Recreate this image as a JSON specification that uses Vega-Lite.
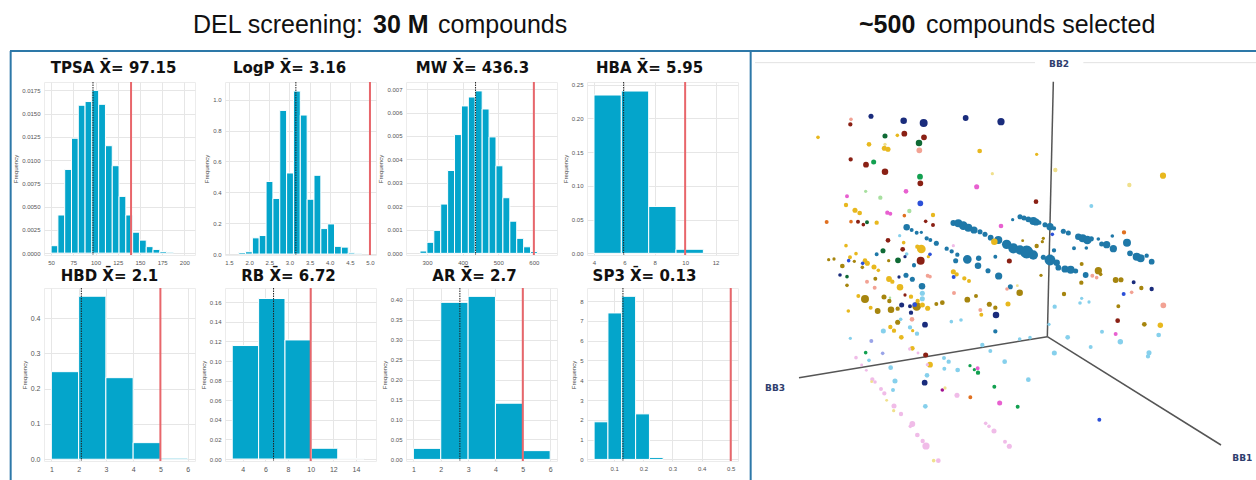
{"$schema":"https://vega.github.io/schema/vega-lite/v6.json","autosize":{"type":"pad"},"padding":{"left":9,"top":13,"right":0,"bottom":0},"background":"white","columns":5,"spacing":{"row":33,"column":30},"bounds":"flush","config":{"view":{"stroke":"#ececec"},"title":{"font":"DejaVu Sans","fontWeight":"bold","fontSize":15,"color":"#111111","anchor":"middle"},"axis":{"grid":true,"gridColor":"#e6e6e6","gridWidth":1,"domain":false,"ticks":false,"labelColor":"#555555","labelFont":"Liberation Sans","labelFontSize":6,"labelPadding":4,"titleFont":"Liberation Sans","titleFontSize":6,"titleFontWeight":"normal","titleColor":"#444444","titlePadding":3}},
"concat":[
{"title":{"text":"TPSA X̄= 97.15","dx":-6,"offset":5},"width":151,"height":173,"layer":[{"data":{"values":[{"a":50,"b":57.65,"f":0.0008},{"a":57.65,"b":65.3,"f":0.0041},{"a":65.3,"b":72.95,"f":0.009},{"a":72.95,"b":80.6,"f":0.01235},{"a":80.6,"b":88.25,"f":0.0159},{"a":88.25,"b":95.9,"f":0.0163},{"a":95.9,"b":103.55,"f":0.0175},{"a":103.55,"b":111.2,"f":0.016},{"a":111.2,"b":118.85,"f":0.01155},{"a":118.85,"b":126.5,"f":0.0094},{"a":126.5,"b":134.15,"f":0.0061},{"a":134.15,"b":141.8,"f":0.0041},{"a":141.8,"b":149.45,"f":0.00225},{"a":149.45,"b":157.1,"f":0.0014},{"a":157.1,"b":164.75,"f":0.0007},{"a":164.75,"b":172.4,"f":0.0004},{"a":172.4,"b":180.05,"f":0.00018},{"a":180.05,"b":187.7,"f":0.0001}]},"mark":{"type":"bar","fill":"#04a5cb","stroke":"white","strokeWidth":1},"encoding":{"x":{"field":"a","type":"quantitative","scale":{"domain":[42,212],"nice":false,"zero":false},"axis":{"title":null,"values":[50,75,100,125,150,175,200],"format":"d","labelOverlap":false}},"x2":{"field":"b"},"y":{"field":"f","type":"quantitative","scale":{"domain":[-0.0002,0.0184],"nice":false,"zero":false},"axis":{"title":"Frequency","values":[0,0.0025,0.005,0.0075,0.01,0.0125,0.015,0.0175],"format":".4f"}},"y2":{"datum":0}}},{"data":{"values":[{"v":140}]},"mark":{"type":"rule","stroke":"#e8666b","strokeWidth":2},"encoding":{"x":{"field":"v","type":"quantitative","axis":{"title":null,"values":[50,75,100,125,150,175,200],"format":"d","labelOverlap":false}}}},{"data":{"values":[{"v":97.15}]},"mark":{"type":"rule","stroke":"#222222","strokeWidth":1,"strokeDash":[1.5,1]},"encoding":{"x":{"field":"v","type":"quantitative","axis":{"title":null,"values":[50,75,100,125,150,175,200],"format":"d","labelOverlap":false}}}}]},
{"title":{"text":"LogP X̄= 3.16","dx":-11,"offset":5},"width":151,"height":173,"layer":[{"data":{"values":[{"a":1.74,"b":1.91,"f":0.01},{"a":1.91,"b":2.08,"f":0.015},{"a":2.08,"b":2.25,"f":0.105},{"a":2.25,"b":2.42,"f":0.12},{"a":2.42,"b":2.59,"f":0.47},{"a":2.59,"b":2.76,"f":0.36},{"a":2.76,"b":2.93,"f":0.93},{"a":2.93,"b":3.1,"f":0.525},{"a":3.1,"b":3.27,"f":1.055},{"a":3.27,"b":3.44,"f":0.9},{"a":3.44,"b":3.61,"f":0.355},{"a":3.61,"b":3.78,"f":0.51},{"a":3.78,"b":3.95,"f":0.165},{"a":3.95,"b":4.12,"f":0.195},{"a":4.12,"b":4.29,"f":0.05},{"a":4.29,"b":4.46,"f":0.045},{"a":4.46,"b":4.63,"f":0.008},{"a":4.63,"b":4.8,"f":0.005}]},"mark":{"type":"bar","fill":"#04a5cb","stroke":"white","strokeWidth":1},"encoding":{"x":{"field":"a","type":"quantitative","scale":{"domain":[1.4,5.15],"nice":false,"zero":false},"axis":{"title":null,"values":[1.5,2,2.5,3,3.5,4,4.5,5],"format":".1f","labelOverlap":false}},"x2":{"field":"b"},"y":{"field":"f","type":"quantitative","scale":{"domain":[-0.006,1.114],"nice":false,"zero":false},"axis":{"title":"Frequency","values":[0,0.2,0.4,0.6,0.8,1],"format":".1f"}},"y2":{"datum":0}}},{"data":{"values":[{"v":5}]},"mark":{"type":"rule","stroke":"#e8666b","strokeWidth":2},"encoding":{"x":{"field":"v","type":"quantitative","axis":{"title":null,"values":[1.5,2,2.5,3,3.5,4,4.5,5],"format":".1f","labelOverlap":false}}}},{"data":{"values":[{"v":3.16}]},"mark":{"type":"rule","stroke":"#222222","strokeWidth":1,"strokeDash":[1.5,1]},"encoding":{"x":{"field":"v","type":"quantitative","axis":{"title":null,"values":[1.5,2,2.5,3,3.5,4,4.5,5],"format":".1f","labelOverlap":false}}}}]},
{"title":{"text":"MW X̄= 436.3","dx":-9,"offset":5},"width":151,"height":173,"layer":[{"data":{"values":[{"a":280.3,"b":299.7,"f":0.0001},{"a":299.7,"b":319.1,"f":0.00047},{"a":319.1,"b":338.5,"f":0.00098},{"a":338.5,"b":357.9,"f":0.0021},{"a":357.9,"b":377.3,"f":0.00353},{"a":377.3,"b":396.7,"f":0.00506},{"a":396.7,"b":416.1,"f":0.00628},{"a":416.1,"b":435.5,"f":0.00666},{"a":435.5,"b":454.9,"f":0.00692},{"a":454.9,"b":474.3,"f":0.00615},{"a":474.3,"b":493.7,"f":0.00496},{"a":493.7,"b":513.1,"f":0.00373},{"a":513.1,"b":532.5,"f":0.00237},{"a":532.5,"b":551.9,"f":0.00137},{"a":551.9,"b":571.3,"f":0.00064},{"a":571.3,"b":590.7,"f":0.00028},{"a":590.7,"b":610.1,"f":0.00008}]},"mark":{"type":"bar","fill":"#04a5cb","stroke":"white","strokeWidth":1},"encoding":{"x":{"field":"a","type":"quantitative","scale":{"domain":[241,665],"nice":false,"zero":false},"axis":{"title":null,"values":[300,400,500,600],"format":"d","labelOverlap":false}},"x2":{"field":"b"},"y":{"field":"f","type":"quantitative","scale":{"domain":[-0.00007,0.0073],"nice":false,"zero":false},"axis":{"title":"Frequency","values":[0,0.001,0.002,0.003,0.004,0.005,0.006,0.007],"format":".3f"}},"y2":{"datum":0}}},{"data":{"values":[{"v":600}]},"mark":{"type":"rule","stroke":"#e8666b","strokeWidth":2},"encoding":{"x":{"field":"v","type":"quantitative","axis":{"title":null,"values":[300,400,500,600],"format":"d","labelOverlap":false}}}},{"data":{"values":[{"v":436.3}]},"mark":{"type":"rule","stroke":"#222222","strokeWidth":1,"strokeDash":[1.5,1]},"encoding":{"x":{"field":"v","type":"quantitative","axis":{"title":null,"values":[300,400,500,600],"format":"d","labelOverlap":false}}}}]},
{"title":{"text":"HBA X̄= 5.95","dx":-13,"offset":5},"width":151,"height":173,"layer":[{"data":{"values":[{"a":4,"b":5.8,"f":0.2347},{"a":5.8,"b":7.6,"f":0.2406},{"a":7.6,"b":9.4,"f":0.0695},{"a":9.4,"b":11.2,"f":0.006}]},"mark":{"type":"bar","fill":"#04a5cb","stroke":"white","strokeWidth":1},"encoding":{"x":{"field":"a","type":"quantitative","scale":{"domain":[3.54,13.48],"nice":false,"zero":false},"axis":{"title":null,"values":[4,6,8,10,12],"format":"d","labelOverlap":false}},"x2":{"field":"b"},"y":{"field":"f","type":"quantitative","scale":{"domain":[-0.0025,0.254],"nice":false,"zero":false},"axis":{"title":"Frequency","values":[0,0.05,0.1,0.15,0.2,0.25],"format":".2f"}},"y2":{"datum":0}}},{"data":{"values":[{"v":10}]},"mark":{"type":"rule","stroke":"#e8666b","strokeWidth":2},"encoding":{"x":{"field":"v","type":"quantitative","axis":{"title":null,"values":[4,6,8,10,12],"format":"d","labelOverlap":false}}}},{"data":{"values":[{"v":5.95}]},"mark":{"type":"rule","stroke":"#222222","strokeWidth":1,"strokeDash":[1.5,1]},"encoding":{"x":{"field":"v","type":"quantitative","axis":{"title":null,"values":[4,6,8,10,12],"format":"d","labelOverlap":false}}}}]},
{"width":488,"height":173,"view":{"stroke":null},"layer":[
{"data":{"values":[{"x":15,"x2":855,"y":38,"y2":38},{"x":1000,"x2":1518,"y":38,"y2":38}]},"mark":{"type":"rule","stroke":"#e2e2e2","strokeWidth":1,"clip":false},"encoding":{"x":{"field":"x","type":"quantitative","scale":{"domain":[54,1518],"nice":false,"zero":false},"axis":null},"y":{"field":"y","type":"quantitative","scale":{"domain":[615,96],"nice":false,"zero":false},"axis":null},"x2":{"field":"x2"},"y2":{"field":"y2"}}},
{"data":{"values":[{"x":910,"x2":892,"y":95,"y2":860},{"x":892,"x2":147,"y":860,"y2":983},{"x":892,"x2":1413,"y":860,"y2":1185}]},"mark":{"type":"rule","stroke":"#555555","strokeWidth":1.5,"clip":false},"encoding":{"x":{"field":"x","type":"quantitative","axis":null},"y":{"field":"y","type":"quantitative","axis":null},"x2":{"field":"x2"},"y2":{"field":"y2"}}},
{"data":{"values":[
{"g":"n","x":363,"y":199,"m":14},{"g":"n","x":461,"y":212,"m":18},{"g":"n","x":521,"y":219,"m":22},{"g":"n","x":647,"y":204,"m":16},{"g":"n","x":753,"y":215,"m":20},{"g":"u","x":511,"y":460,"m":16},{"g":"s","x":303,"y":208,"m":10},{"g":"s","x":508,"y":301,"m":16},{"g":"r","x":301,"y":223,"m":12},{"g":"r","x":463,"y":251,"m":16},{"g":"r","x":522,"y":262,"m":16},{"g":"r","x":302,"y":328,"m":12},{"g":"r","x":348,"y":344,"m":16},{"g":"r","x":405,"y":365,"m":18},{"g":"r","x":511,"y":400,"m":16},{"g":"r","x":858,"y":455,"m":13},
{"g":"y","x":204,"y":262,"m":10},{"g":"y","x":442,"y":256,"m":10},{"g":"y","x":357,"y":283,"m":13},{"g":"w","x":405,"y":283,"m":9},{"g":"y","x":403,"y":295,"m":14},{"g":"y","x":414,"y":298,"m":14},{"g":"y","x":689,"y":303,"m":13},{"g":"y","x":860,"y":313,"m":9},{"g":"w","x":916,"y":360,"m":12},{"g":"w","x":727,"y":371,"m":9},{"g":"y","x":1239,"y":377,"m":17},{"g":"w","x":1138,"y":405,"m":12},{"g":"y","x":288,"y":465,"m":12},{"g":"y","x":315,"y":481,"m":14},{"g":"y","x":329,"y":489,"m":13},{"g":"y","x":549,"y":495,"m":12},{"g":"y","x":380,"y":518,"m":12},
{"g":"k","x":405,"y":258,"m":14},{"g":"k","x":507,"y":279,"m":18},{"g":"g","x":371,"y":336,"m":14},{"g":"g","x":510,"y":380,"m":16},{"g":"e","x":347,"y":424,"m":9},{"g":"e","x":391,"y":443,"m":12},{"g":"e","x":478,"y":483,"m":12},{"g":"m","x":291,"y":439,"m":11},{"g":"m","x":468,"y":424,"m":13},{"g":"m","x":680,"y":410,"m":14},{"g":"m","x":412,"y":488,"m":12},{"g":"m","x":421,"y":491,"m":11},{"g":"m","x":753,"y":528,"m":13},{"g":"o","x":230,"y":516,"m":11},{"g":"o","x":303,"y":515,"m":10},{"g":"o","x":463,"y":497,"m":10},{"g":"o","x":1122,"y":547,"m":12},{"g":"r","x":324,"y":515,"m":11},{"g":"r","x":340,"y":524,"m":10},{"g":"r","x":527,"y":514,"m":10},{"g":"r","x":549,"y":525,"m":11},{"g":"r","x":414,"y":571,"m":13},{"g":"r","x":458,"y":598,"m":13},{"g":"k","x":351,"y":517,"m":11},{"g":"k","x":399,"y":602,"m":14},{"g":"k","x":444,"y":631,"m":16},{"g":"l","x":1024,"y":468,"m":11},
{"g":"b","x":810,"y":500,"m":14},{"g":"b","x":822,"y":504,"m":14},{"g":"b","x":835,"y":508,"m":16},{"g":"b","x":850,"y":513,"m":22},{"g":"b","x":858,"y":516,"m":20},{"g":"b","x":868,"y":518,"m":12},{"g":"b","x":885,"y":524,"m":14},{"g":"b","x":900,"y":530,"m":20},{"g":"b","x":912,"y":535,"m":12},{"g":"b","x":940,"y":544,"m":14},{"g":"b","x":955,"y":549,"m":14},{"g":"b","x":985,"y":560,"m":18},{"g":"b","x":998,"y":565,"m":22},{"g":"b","x":1012,"y":570,"m":24},{"g":"b","x":1024,"y":566,"m":14},{"g":"b","x":1045,"y":567,"m":10},{"g":"b","x":1055,"y":582,"m":14},{"g":"b","x":1070,"y":584,"m":20},{"g":"b","x":1090,"y":596,"m":20},{"g":"b","x":1140,"y":610,"m":16},{"g":"b","x":1160,"y":620,"m":22},{"g":"b","x":1172,"y":625,"m":22},{"g":"b","x":1190,"y":617,"m":12},{"g":"b","x":1205,"y":635,"m":16},{"g":"b","x":1087,"y":558,"m":10},{"g":"b","x":1131,"y":578,"m":22},{"g":"b","x":788,"y":509,"m":9},{"g":"b","x":972,"y":595,"m":11},{"g":"b","x":1009,"y":594,"m":10},{"g":"b","x":912,"y":601,"m":12},
{"g":"b","x":610,"y":519,"m":16},{"g":"b","x":625,"y":520,"m":22},{"g":"b","x":640,"y":527,"m":24},{"g":"b","x":655,"y":533,"m":22},{"g":"b","x":672,"y":540,"m":20},{"g":"b","x":690,"y":545,"m":14},{"g":"b","x":705,"y":553,"m":14},{"g":"b","x":722,"y":563,"m":16},{"g":"b","x":745,"y":570,"m":22},{"g":"b","x":770,"y":583,"m":26},{"g":"b","x":790,"y":595,"m":28},{"g":"b","x":810,"y":600,"m":26},{"g":"b","x":830,"y":606,"m":36},{"g":"b","x":850,"y":615,"m":26},{"g":"b","x":880,"y":622,"m":14},{"g":"b","x":900,"y":630,"m":30},{"g":"b","x":920,"y":638,"m":18},
{"g":"b","x":470,"y":532,"m":18},{"g":"b","x":485,"y":540,"m":11},{"g":"b","x":500,"y":548,"m":11},{"g":"b","x":514,"y":547,"m":9},{"g":"b","x":530,"y":565,"m":12},{"g":"b","x":541,"y":570,"m":11},{"g":"b","x":559,"y":580,"m":14},{"g":"b","x":590,"y":596,"m":12},{"g":"b","x":605,"y":604,"m":12},{"g":"b","x":622,"y":614,"m":12},{"g":"b","x":617,"y":632,"m":14},{"g":"b","x":652,"y":628,"m":24},{"g":"b","x":686,"y":625,"m":15},{"g":"b","x":736,"y":620,"m":11},{"g":"b","x":380,"y":613,"m":11},{"g":"b","x":492,"y":645,"m":11},
{"g":"y","x":733,"y":575,"m":18},{"g":"d","x":818,"y":572,"m":8},{"g":"d","x":880,"y":565,"m":9},{"g":"d","x":877,"y":575,"m":9},{"g":"d","x":860,"y":588,"m":12},{"g":"y","x":461,"y":578,"m":10},{"g":"y","x":288,"y":587,"m":10},{"g":"y","x":318,"y":611,"m":10},{"g":"y","x":300,"y":622,"m":11},{"g":"y","x":514,"y":597,"m":24},{"g":"y","x":502,"y":590,"m":12},{"g":"d","x":236,"y":629,"m":9},{"g":"d","x":252,"y":627,"m":9},{"g":"y","x":345,"y":632,"m":13},{"g":"y","x":352,"y":640,"m":14},{"g":"d","x":416,"y":632,"m":9},{"g":"d","x":313,"y":634,"m":9},{"g":"y","x":535,"y":620,"m":9},{"g":"d","x":995,"y":642,"m":11},{"g":"u","x":907,"y":553,"m":10},{"g":"u","x":540,"y":613,"m":10},{"g":"u","x":296,"y":632,"m":10},{"g":"u","x":338,"y":640,"m":10},{"g":"r","x":512,"y":632,"m":22},{"g":"r","x":778,"y":633,"m":14},{"g":"l","x":449,"y":557,"m":9},{"g":"l","x":470,"y":612,"m":10},{"g":"p","x":610,"y":587,"m":9},{"g":"n","x":465,"y":620,"m":9},
{"g":"d","x":277,"y":648,"m":13},{"g":"d","x":337,"y":652,"m":10},{"g":"y","x":372,"y":651,"m":14},{"g":"y","x":385,"y":661,"m":10},{"g":"y","x":417,"y":687,"m":16},{"g":"y","x":427,"y":695,"m":12},{"g":"y","x":450,"y":712,"m":18},{"g":"y","x":610,"y":665,"m":14},{"g":"y","x":620,"y":673,"m":12},{"g":"y","x":643,"y":685,"m":12},{"g":"y","x":657,"y":693,"m":11},{"g":"d","x":1045,"y":662,"m":20},{"g":"d","x":1052,"y":673,"m":10},{"g":"d","x":873,"y":676,"m":9},
{"g":"n","x":270,"y":675,"m":10},{"g":"n","x":447,"y":681,"m":9},{"g":"b","x":468,"y":676,"m":14},{"g":"b","x":487,"y":688,"m":14},{"g":"b","x":516,"y":709,"m":18},{"g":"b","x":746,"y":678,"m":20},{"g":"b","x":714,"y":662,"m":14},{"g":"b","x":684,"y":647,"m":18},{"g":"b","x":492,"y":647,"m":10},{"g":"b","x":781,"y":710,"m":14},{"g":"k","x":291,"y":680,"m":10},{"g":"s","x":351,"y":695,"m":11},{"g":"s","x":374,"y":713,"m":11},{"g":"s","x":533,"y":677,"m":11},{"g":"s","x":540,"y":680,"m":10},{"g":"s","x":612,"y":729,"m":11},{"g":"s","x":771,"y":717,"m":10},
{"g":"d","x":376,"y":686,"m":11},{"g":"d","x":291,"y":706,"m":10},{"g":"y","x":325,"y":738,"m":11},{"g":"d","x":345,"y":747,"m":22},{"g":"d","x":402,"y":741,"m":14},{"g":"d","x":418,"y":753,"m":12},{"g":"y","x":362,"y":773,"m":11},{"g":"d","x":383,"y":783,"m":16},{"g":"d","x":423,"y":779,"m":18},{"g":"d","x":443,"y":776,"m":12},{"g":"y","x":295,"y":783,"m":10},{"g":"d","x":500,"y":769,"m":24},{"g":"y","x":483,"y":740,"m":12},{"g":"y","x":503,"y":753,"m":12},{"g":"y","x":517,"y":765,"m":14},{"g":"y","x":533,"y":775,"m":14},{"g":"d","x":559,"y":762,"m":11},{"g":"d","x":577,"y":758,"m":13},{"g":"d","x":652,"y":749,"m":16},{"g":"d","x":678,"y":738,"m":11},{"g":"d","x":718,"y":763,"m":14},{"g":"d","x":736,"y":773,"m":12},{"g":"d","x":809,"y":728,"m":18},{"g":"y","x":774,"y":762,"m":14},{"g":"y","x":694,"y":794,"m":11},{"g":"d","x":443,"y":817,"m":14},
{"g":"r","x":465,"y":735,"m":9},{"g":"l","x":517,"y":730,"m":14},{"g":"l","x":517,"y":746,"m":14},{"g":"n","x":455,"y":765,"m":14},{"g":"n","x":480,"y":769,"m":11},{"g":"n","x":483,"y":788,"m":12},{"g":"n","x":525,"y":824,"m":16},{"g":"n","x":738,"y":795,"m":18},{"g":"b","x":736,"y":844,"m":12},{"g":"u","x":494,"y":764,"m":13},{"g":"u","x":611,"y":681,"m":11},{"g":"s","x":691,"y":780,"m":11},{"g":"s","x":486,"y":808,"m":13},
{"g":"l","x":604,"y":815,"m":10},{"g":"l","x":633,"y":810,"m":10},{"g":"l","x":452,"y":808,"m":10},{"g":"l","x":400,"y":843,"m":14},{"g":"l","x":480,"y":832,"m":12},{"g":"l","x":501,"y":851,"m":12},{"g":"l","x":301,"y":865,"m":9},{"g":"v","x":364,"y":873,"m":11},{"g":"v","x":398,"y":910,"m":10},{"g":"l","x":357,"y":931,"m":10},{"g":"l","x":422,"y":953,"m":13},{"g":"l","x":435,"y":993,"m":14},{"g":"l","x":429,"y":1020,"m":11},{"g":"l","x":531,"y":976,"m":13},{"g":"l","x":526,"y":1069,"m":13},{"g":"l","x":583,"y":956,"m":11},{"g":"l","x":596,"y":935,"m":12},{"g":"l","x":582,"y":924,"m":11},{"g":"l","x":623,"y":960,"m":13},{"g":"l","x":697,"y":885,"m":12},{"g":"l","x":721,"y":903,"m":11},{"g":"l","x":764,"y":935,"m":13},{"g":"l","x":809,"y":867,"m":10},{"g":"l","x":840,"y":863,"m":10},{"g":"l","x":835,"y":989,"m":13},{"g":"l","x":913,"y":909,"m":14},{"g":"l","x":914,"y":770,"m":12},{"g":"l","x":897,"y":823,"m":9},{"g":"l","x":953,"y":862,"m":13},{"g":"l","x":995,"y":745,"m":9},{"g":"l","x":990,"y":759,"m":10},{"g":"l","x":1017,"y":756,"m":9},{"g":"l","x":1056,"y":845,"m":11},{"g":"l","x":1022,"y":891,"m":11},{"g":"l","x":1111,"y":875,"m":15},{"g":"l","x":1226,"y":855,"m":13},{"g":"l","x":1197,"y":908,"m":14},{"g":"l","x":1194,"y":919,"m":12},
{"g":"y","x":421,"y":831,"m":12},{"g":"y","x":432,"y":842,"m":12},{"g":"y","x":454,"y":862,"m":13},{"g":"y","x":488,"y":842,"m":9},{"g":"y","x":487,"y":895,"m":13},{"g":"y","x":540,"y":944,"m":16},{"g":"d","x":1105,"y":769,"m":11},{"g":"d","x":1183,"y":823,"m":13},{"g":"y","x":1231,"y":826,"m":15},{"g":"d","x":942,"y":732,"m":12},{"g":"d","x":994,"y":698,"m":12},{"g":"d","x":1097,"y":690,"m":16},{"g":"d","x":1113,"y":689,"m":14},{"g":"d","x":1174,"y":714,"m":12},{"g":"n","x":1151,"y":697,"m":11},{"g":"n","x":1205,"y":717,"m":12},{"g":"u","x":1121,"y":732,"m":11},{"g":"s","x":1027,"y":677,"m":11},{"g":"s","x":1040,"y":683,"m":10},{"g":"s","x":1145,"y":727,"m":10},{"g":"s","x":1240,"y":766,"m":16},
{"g":"b","x":925,"y":653,"m":16},{"g":"b","x":945,"y":657,"m":20},{"g":"b","x":962,"y":659,"m":22},{"g":"b","x":977,"y":663,"m":14},{"g":"b","x":1007,"y":675,"m":16},{"g":"r","x":1103,"y":812,"m":13},{"g":"r","x":527,"y":915,"m":14},{"g":"m","x":1097,"y":852,"m":11},{"g":"m","x":683,"y":955,"m":11},{"g":"m","x":749,"y":1059,"m":14},{"g":"c","x":577,"y":1020,"m":10},{"g":"g","x":347,"y":908,"m":10},{"g":"g","x":660,"y":947,"m":9},{"g":"g","x":673,"y":959,"m":9},{"g":"g","x":684,"y":968,"m":12},{"g":"g","x":733,"y":1010,"m":11},{"g":"g","x":803,"y":1070,"m":11},{"g":"o","x":661,"y":1042,"m":11},{"g":"n","x":524,"y":998,"m":16},{"g":"u","x":1048,"y":1109,"m":11},
{"g":"p","x":318,"y":923,"m":10},{"g":"p","x":335,"y":945,"m":8},{"g":"p","x":349,"y":961,"m":8},{"g":"p","x":367,"y":988,"m":12},{"g":"p","x":375,"y":996,"m":10},{"g":"p","x":393,"y":1017,"m":11},{"g":"p","x":403,"y":1030,"m":12},{"g":"p","x":432,"y":1068,"m":14},{"g":"p","x":453,"y":1092,"m":12},{"g":"p","x":487,"y":1122,"m":16},{"g":"p","x":481,"y":1129,"m":10},{"g":"p","x":502,"y":1155,"m":13},{"g":"p","x":518,"y":1173,"m":12},{"g":"p","x":528,"y":1188,"m":20},{"g":"p","x":565,"y":1232,"m":13},{"g":"p","x":707,"y":1120,"m":10},{"g":"p","x":717,"y":1129,"m":10},{"g":"p","x":732,"y":1143,"m":14},{"g":"p","x":765,"y":1175,"m":11},{"g":"p","x":778,"y":1189,"m":14},{"g":"p","x":621,"y":1036,"m":14},{"g":"p","x":479,"y":897,"m":9},{"g":"p","x":504,"y":909,"m":8},{"g":"p","x":532,"y":944,"m":9},{"g":"w","x":410,"y":1051,"m":8},{"g":"w","x":431,"y":1082,"m":9},{"g":"w","x":365,"y":995,"m":8},{"g":"w","x":551,"y":1232,"m":10},{"g":"w","x":585,"y":1014,"m":9},{"g":"w","x":802,"y":707,"m":8},{"g":"e","x":420,"y":743,"m":7}
]},"mark":{"type":"circle","opacity":1,"clip":false},"encoding":{"x":{"field":"x","type":"quantitative","axis":null},"y":{"field":"y","type":"quantitative","axis":null},"color":{"field":"g","type":"nominal","legend":null,"scale":{"domain":["n","r","y","d","b","l","p","m","g","k","s","o","u","e","w","v","c"],"range":["#1a2c7c","#8a2014","#e8b81e","#a6850e","#1f78a8","#86d0ec","#f0bce8","#e860d0","#12a050","#0f6a35","#f2a294","#e07020","#2c50d8","#a8e0a0","#f0e08c","#9aa4e8","#a01090"]}},"size":{"field":"m","type":"quantitative","legend":null,"scale":{"type":"pow","exponent":2,"domain":[0,36],"range":[0,170]}}}},
{"data":{"values":[{"x":-2220,"x2":1518,"y":3,"y2":3},{"x":-2218,"x2":-2218,"y":3,"y2":1290},{"x":2,"x2":2,"y":3,"y2":1290}]},"mark":{"type":"rule","stroke":"#2d78a8","strokeWidth":2,"clip":false},"encoding":{"x":{"field":"x","type":"quantitative","axis":null},"y":{"field":"y","type":"quantitative","axis":null},"x2":{"field":"x2"},"y2":{"field":"y2"}}},
{"data":{"values":[{"x":927,"y":43,"t":"BB2"},{"x":75,"y":1013,"t":"BB3"},{"x":1477,"y":1223,"t":"BB1"}]},"mark":{"type":"text","font":"DejaVu Sans","fontWeight":"bold","fontSize":9,"fill":"#2f3e6e","align":"center","baseline":"middle","clip":false},"encoding":{"x":{"field":"x","type":"quantitative","axis":null},"y":{"field":"y","type":"quantitative","axis":null},"text":{"field":"t"}}},
{"data":{"values":[{"x":-1671,"y":-75,"t":"DEL screening:"},{"x":-936,"y":-75,"t":"compounds"},{"x":528,"y":-75,"t":"compounds selected"}]},"mark":{"type":"text","font":"Liberation Sans","fontSize":25,"fill":"#111111","align":"left","baseline":"middle","clip":false},"encoding":{"x":{"field":"x","type":"quantitative","axis":null},"y":{"field":"y","type":"quantitative","axis":null},"text":{"field":"t"}}},
{"data":{"values":[{"x":-1131,"y":-75,"t":"30 M"},{"x":327,"y":-75,"t":"~500"}]},"mark":{"type":"text","font":"Liberation Sans","fontWeight":"bold","fontSize":25,"fill":"#111111","align":"left","baseline":"middle","clip":false},"encoding":{"x":{"field":"x","type":"quantitative","axis":null},"y":{"field":"y","type":"quantitative","axis":null},"text":{"field":"t"}}}
]},
{"title":{"text":"HBD X̄= 2.1","dx":-10,"offset":3},"width":151,"height":173,"layer":[{"data":{"values":[{"a":1,"b":2,"f":0.248},{"a":2,"b":3,"f":0.4617},{"a":3,"b":4,"f":0.231},{"a":4,"b":5,"f":0.047},{"a":5,"b":6,"f":0.003}]},"mark":{"type":"bar","fill":"#04a5cb","stroke":"white","strokeWidth":1},"encoding":{"x":{"field":"a","type":"quantitative","scale":{"domain":[0.73,6.27],"nice":false,"zero":false},"axis":{"title":null,"values":[1,2,3,4,5,6],"format":"d","labelFontSize":7,"labelOverlap":false}},"x2":{"field":"b"},"y":{"field":"f","type":"quantitative","scale":{"domain":[-0.005,0.485],"nice":false,"zero":false},"axis":{"title":"Frequency","values":[0,0.1,0.2,0.3,0.4],"format":".1f","labelFontSize":7}},"y2":{"datum":0}}},{"data":{"values":[{"v":5}]},"mark":{"type":"rule","stroke":"#e8666b","strokeWidth":2},"encoding":{"x":{"field":"v","type":"quantitative","axis":{"title":null,"values":[1,2,3,4,5,6],"format":"d","labelFontSize":7,"labelOverlap":false}}}},{"data":{"values":[{"v":2.1}]},"mark":{"type":"rule","stroke":"#222222","strokeWidth":1,"strokeDash":[1.5,1]},"encoding":{"x":{"field":"v","type":"quantitative","axis":{"title":null,"values":[1,2,3,4,5,6],"format":"d","labelFontSize":7,"labelOverlap":false}}}}]},
{"title":{"text":"RB X̄= 6.72","dx":-12,"offset":3},"width":151,"height":173,"layer":[{"data":{"values":[{"a":3.07,"b":5.4,"f":0.1158},{"a":5.4,"b":7.73,"f":0.1638},{"a":7.73,"b":10.06,"f":0.1215},{"a":10.06,"b":12.39,"f":0.011},{"a":12.39,"b":14.72,"f":0.0004}]},"mark":{"type":"bar","fill":"#04a5cb","stroke":"white","strokeWidth":1},"encoding":{"x":{"field":"a","type":"quantitative","scale":{"domain":[2.43,15.77],"nice":false,"zero":false},"axis":{"title":null,"values":[4,6,8,10,12,14],"format":"d","labelFontSize":7,"labelOverlap":false}},"x2":{"field":"b"},"y":{"field":"f","type":"quantitative","scale":{"domain":[-0.002,0.1745],"nice":false,"zero":false},"axis":{"title":"Frequency","values":[0,0.02,0.04,0.06,0.08,0.1,0.12,0.14,0.16],"format":".2f"}},"y2":{"datum":0}}},{"data":{"values":[{"v":10}]},"mark":{"type":"rule","stroke":"#e8666b","strokeWidth":2},"encoding":{"x":{"field":"v","type":"quantitative","axis":{"title":null,"values":[4,6,8,10,12,14],"format":"d","labelFontSize":7,"labelOverlap":false}}}},{"data":{"values":[{"v":6.72}]},"mark":{"type":"rule","stroke":"#222222","strokeWidth":1,"strokeDash":[1.5,1]},"encoding":{"x":{"field":"v","type":"quantitative","axis":{"title":null,"values":[4,6,8,10,12,14],"format":"d","labelFontSize":7,"labelOverlap":false}}}}]},
{"title":{"text":"AR X̄= 2.7","dx":-7,"offset":3},"width":151,"height":173,"layer":[{"data":{"values":[{"a":1,"b":2,"f":0.0277},{"a":2,"b":3,"f":0.394},{"a":3,"b":4,"f":0.409},{"a":4,"b":5,"f":0.141},{"a":5,"b":6,"f":0.022}]},"mark":{"type":"bar","fill":"#04a5cb","stroke":"white","strokeWidth":1},"encoding":{"x":{"field":"a","type":"quantitative","scale":{"domain":[0.73,6.25],"nice":false,"zero":false},"axis":{"title":null,"values":[1,2,3,4,5,6],"format":"d","labelFontSize":7,"labelOverlap":false}},"x2":{"field":"b"},"y":{"field":"f","type":"quantitative","scale":{"domain":[-0.004,0.43],"nice":false,"zero":false},"axis":{"title":"Frequency","values":[0,0.05,0.1,0.15,0.2,0.25,0.3,0.35,0.4],"format":".2f"}},"y2":{"datum":0}}},{"data":{"values":[{"v":5}]},"mark":{"type":"rule","stroke":"#e8666b","strokeWidth":2},"encoding":{"x":{"field":"v","type":"quantitative","axis":{"title":null,"values":[1,2,3,4,5,6],"format":"d","labelFontSize":7,"labelOverlap":false}}}},{"data":{"values":[{"v":2.7}]},"mark":{"type":"rule","stroke":"#222222","strokeWidth":1,"strokeDash":[1.5,1]},"encoding":{"x":{"field":"v","type":"quantitative","axis":{"title":null,"values":[1,2,3,4,5,6],"format":"d","labelFontSize":7,"labelOverlap":false}}}}]},
{"title":{"text":"SP3 X̄= 0.13","dx":-18,"offset":3},"width":151,"height":173,"layer":[{"data":{"values":[{"a":0.031,"b":0.0785,"f":1.9},{"a":0.0785,"b":0.126,"f":7.4},{"a":0.126,"b":0.1735,"f":8.24},{"a":0.1735,"b":0.221,"f":2.3},{"a":0.221,"b":0.268,"f":0.1}]},"mark":{"type":"bar","fill":"#04a5cb","stroke":"white","strokeWidth":1},"encoding":{"x":{"field":"a","type":"quantitative","scale":{"domain":[0.0066,0.525],"nice":false,"zero":false},"axis":{"title":null,"values":[0.1,0.2,0.3,0.4,0.5],"format":".1f","labelOverlap":false}},"x2":{"field":"b"},"y":{"field":"f","type":"quantitative","scale":{"domain":[-0.08,8.66],"nice":false,"zero":false},"axis":{"title":"Frequency","values":[0,1,2,3,4,5,6,7,8],"format":"d"}},"y2":{"datum":0}}},{"data":{"values":[{"v":0.5}]},"mark":{"type":"rule","stroke":"#e8666b","strokeWidth":2},"encoding":{"x":{"field":"v","type":"quantitative","axis":{"title":null,"values":[0.1,0.2,0.3,0.4,0.5],"format":".1f","labelOverlap":false}}}},{"data":{"values":[{"v":0.13}]},"mark":{"type":"rule","stroke":"#222222","strokeWidth":1,"strokeDash":[1.5,1]},"encoding":{"x":{"field":"v","type":"quantitative","axis":{"title":null,"values":[0.1,0.2,0.3,0.4,0.5],"format":".1f","labelOverlap":false}}}}]}
]}
